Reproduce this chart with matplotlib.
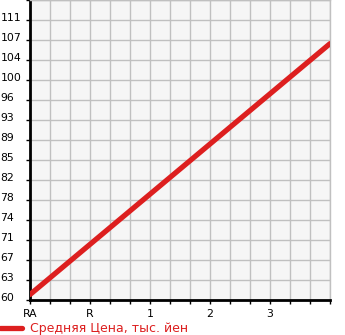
import matplotlib
matplotlib.use("Agg")
import matplotlib.pyplot as plt
import matplotlib.transforms as mtransforms

# chart data
x_points = [0, 15]
avg_price = [61, 107]
y_ticks = [60 + i * 55 / 15 for i in range(16)]
y_labels = [str(int(v)) for v in y_ticks[:-1]] + [""]
x_tick_pos = [0, 3, 6, 9, 12]
x_tick_labels = ["RA", "R", "1", "2", "3"]
legend_label = "Средняя Цена, тыс. йен"

RED = "#dd1f1f"
GRID = "#c0c0c0"

fig = plt.figure(figsize=(3.45, 3.35), dpi=100)
ax = fig.add_axes([30 / 345, 35 / 335, 300 / 345, 300 / 335])
ax.set_facecolor("#f6f6f6")

line, = ax.plot(x_points, avg_price, color=RED, linewidth=3.8,
                solid_capstyle="round", zorder=3, label=legend_label)

ax.set_xlim(0, 15)
ax.set_ylim(60, 115)

ax.set_yticks(y_ticks)
ax.set_yticklabels(y_labels)
ax.set_xticks(range(16))
ax.set_xticklabels([x_tick_labels[x_tick_pos.index(i)] if i in x_tick_pos else ""
                    for i in range(16)])

ax.grid(True, color=GRID, linewidth=1)
ax.set_axisbelow(True)

ax.tick_params(axis="y", length=3, width=1, direction="out", labelsize=7.8,
               pad=18.3)
ax.tick_params(axis="x", length=3, width=1, direction="out", labelsize=7.8,
               pad=3.5)

offset = mtransforms.ScaledTranslation(0, 3 / 100, fig.dpi_scale_trans)
for lbl in ax.get_yticklabels():
    lbl.set_horizontalalignment("left")
    lbl.set_transform(lbl.get_transform() + offset)

for side in ["left", "bottom"]:
    ax.spines[side].set_color("black")
    ax.spines[side].set_linewidth(2)
for side in ["top", "right"]:
    ax.spines[side].set_color(GRID)
    ax.spines[side].set_linewidth(1)

leg = fig.legend(handles=[line], loc="lower left", bbox_to_anchor=(0, 0.0),
                 frameon=False, fontsize=9, handlelength=1.75,
                 handletextpad=0.65, borderpad=0, borderaxespad=0,
                 labelcolor=RED)

fig.savefig("out.png", dpi=100)
